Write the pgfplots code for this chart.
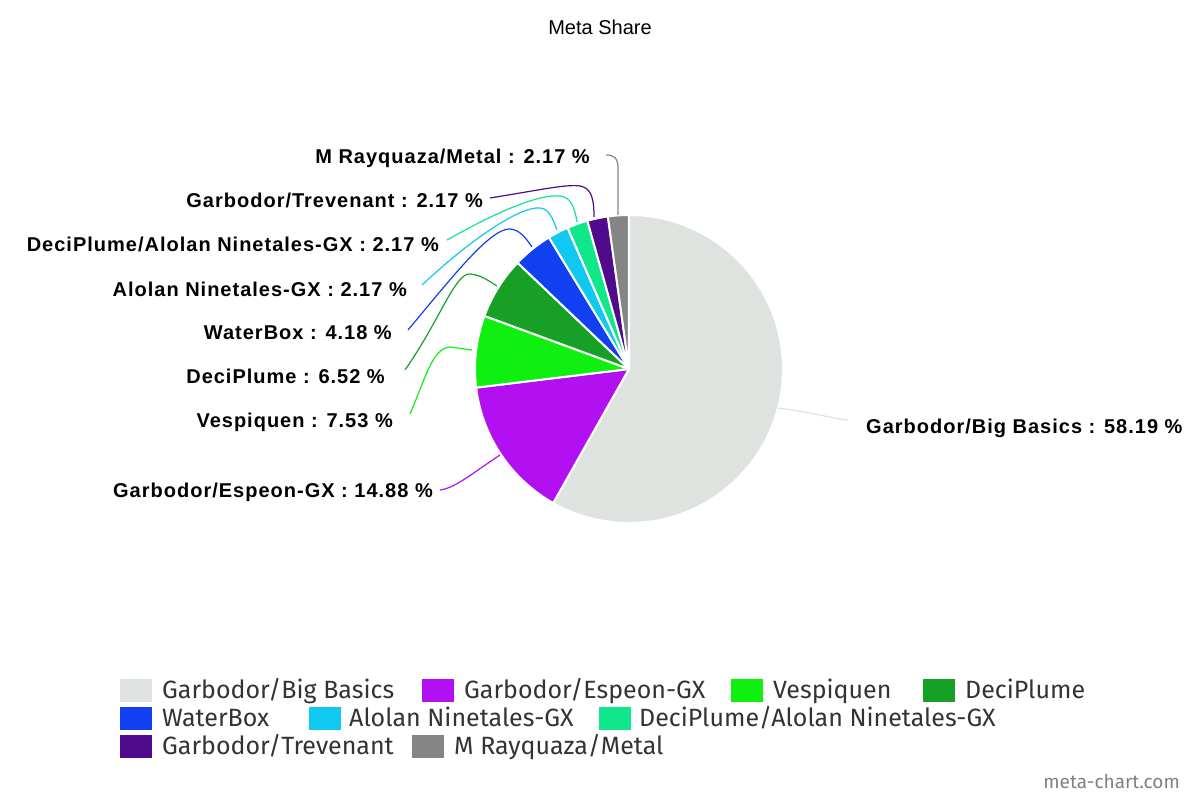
\documentclass[border=0pt]{standalone}
\usepackage{pgfplots}
\usepackage{pgfplotstable}
\pgfplotsset{compat=1.18}
\usepackage{fontspec}
\setmainfont{Liberation Sans}
\newfontfamily\labelfont[LetterSpace=5]{Liberation Sans}
\newfontfamily\legfont{Fira Sans}

\definecolor{cBB}{RGB}{223,227,223}
\definecolor{cES}{RGB}{178,16,240}
\definecolor{cVE}{RGB}{16,240,16}
\definecolor{cDP}{RGB}{22,160,38}
\definecolor{cWB}{RGB}{16,64,240}
\definecolor{cAN}{RGB}{16,200,240}
\definecolor{cDA}{RGB}{16,230,140}
\definecolor{cGT}{RGB}{80,10,140}
\definecolor{cMR}{RGB}{133,133,133}
\definecolor{legtext}{RGB}{51,51,51}

% share of each deck, clockwise from 12 o'clock
\pgfplotstableread[col sep=comma]{
name,share,color
Garbodor/Big Basics,58.19,cBB
Garbodor/Espeon-GX,14.88,cES
Vespiquen,7.53,cVE
DeciPlume,6.52,cDP
WaterBox,4.18,cWB
Alolan Ninetales-GX,2.17,cAN
DeciPlume/Alolan Ninetales-GX,2.17,cDA
Garbodor/Trevenant,2.17,cGT
M Rayquaza/Metal,2.17,cMR
}\sharetable

\begin{document}
\begin{tikzpicture}
\begin{axis}[
hide axis,
x=1pt, y=1pt,
xmin=0, xmax=1200,
ymin=0, ymax=800,
clip=false,
]
\path (axis cs:0,0) rectangle (axis cs:1200,800);

% wedges
\def\cx{629}\def\cy{431}\def\rr{154}
\def\cum{0}
\pgfplotsforeachungrouped \i in {0,...,8}{%
  \pgfplotstablegetelem{\i}{share}\of\sharetable \let\v=\pgfplotsretval
  \pgfplotstablegetelem{\i}{color}\of\sharetable \let\col=\pgfplotsretval
  \pgfmathsetmacro\sa{90-3.6*\cum}%
  \pgfmathsetmacro\ea{90-3.6*(\cum+\v)}%
  \pgfmathsetmacro\cum{\cum+\v}%
  \edef\temp{\noexpand\fill[fill=\col, draw=white, line width=2pt, line join=round]
    (axis cs:\cx,\cy) -- (axis cs:{\cx+\rr*cos(\sa)},{\cy+\rr*sin(\sa)})
    arc[start angle=\sa, end angle=\ea, radius=\rr pt] -- cycle;}%
  \temp
}

% leader lines
\draw[cMR, line width=1.2pt] (axis cs:618,585) -- (axis cs:618,632) .. controls (axis cs:618,642) and (axis cs:614,645) .. (axis cs:606,645);
\draw[cGT, line width=1.2pt] (axis cs:490,602) .. controls (axis cs:540,610) and (axis cs:566,616) .. (axis cs:580,614) .. controls (axis cs:592,612) and (axis cs:594,600) .. (axis cs:594,583);
\draw[cDA, line width=1.2pt] (axis cs:447,560) .. controls (axis cs:500,590) and (axis cs:540,606) .. (axis cs:560,604) .. controls (axis cs:572,603) and (axis cs:575,590) .. (axis cs:577,578);
\draw[cAN, line width=1.2pt] (axis cs:422,515) .. controls (axis cs:470,560) and (axis cs:520,594) .. (axis cs:540,592) .. controls (axis cs:550,591) and (axis cs:553,580) .. (axis cs:557,570);
\draw[cWB, line width=1.2pt] (axis cs:408,470) .. controls (axis cs:450,520) and (axis cs:490,572) .. (axis cs:510,571) .. controls (axis cs:520,570) and (axis cs:525,563) .. (axis cs:532,553);
\draw[cDP, line width=1.2pt] (axis cs:405,430) .. controls (axis cs:440,480) and (axis cs:455,527) .. (axis cs:470,526) .. controls (axis cs:482,525) and (axis cs:490,518) .. (axis cs:497,514);
\draw[cVE, line width=1.2pt] (axis cs:410,386) .. controls (axis cs:425,420) and (axis cs:432,452) .. (axis cs:450,453) -- (axis cs:472,450);
\draw[cES, line width=1.2pt] (axis cs:440,310) .. controls (axis cs:455,312) and (axis cs:470,325) .. (axis cs:500,345);
\draw[cBB, line width=1.2pt] (axis cs:778,392) .. controls (axis cs:810,388) and (axis cs:830,382) .. (axis cs:848,380);

% slice labels
\begin{scope}[every node/.style={inner sep=0pt, font=\labelfont\bfseries\fontsize{20}{22}\selectfont}]
\node[anchor=base east] at (axis cs:590,636) {M Rayquaza/Metal : 2.17 \%};
\node[anchor=base east] at (axis cs:483,592) {Garbodor/Trevenant : 2.17 \%};
\node[anchor=base east] at (axis cs:439,548) {DeciPlume/Alolan Ninetales-GX : 2.17 \%};
\node[anchor=base east] at (axis cs:407,503) {Alolan Ninetales-GX : 2.17 \%};
\node[anchor=base east] at (axis cs:392,460) {WaterBox : 4.18 \%};
\node[anchor=base east] at (axis cs:385,416) {DeciPlume : 6.52 \%};
\node[anchor=base east] at (axis cs:393,372) {Vespiquen : 7.53 \%};
\node[anchor=base east] at (axis cs:433,302) {Garbodor/Espeon-GX : 14.88 \%};
\node[anchor=base west] at (axis cs:866,366) {Garbodor/Big Basics : 58.19 \%};
\end{scope}

% title
\node[inner sep=0pt, font=\fontsize{20}{22}\selectfont] at (axis cs:600,773) {Meta Share};

% legend
\begin{scope}[every node/.style={inner sep=0pt, anchor=base west, text=legtext, font=\legfont\fontsize{25}{28}\selectfont}]
\fill[cBB] (axis cs:120,98) rectangle (axis cs:152,121); \node at (axis cs:162,101) {Garbodor/Big Basics};
\fill[cES] (axis cs:422,98) rectangle (axis cs:454,121); \node at (axis cs:464,101) {Garbodor/Espeon-GX};
\fill[cVE] (axis cs:731,98) rectangle (axis cs:763,121); \node at (axis cs:773,101) {Vespiquen};
\fill[cDP] (axis cs:923,98) rectangle (axis cs:955,121); \node at (axis cs:965,101) {DeciPlume};
\fill[cWB] (axis cs:120,70) rectangle (axis cs:152,93); \node at (axis cs:162,73) {WaterBox};
\fill[cAN] (axis cs:309,70) rectangle (axis cs:341,93); \node at (axis cs:349,73) {Alolan Ninetales-GX};
\fill[cDA] (axis cs:599,70) rectangle (axis cs:631,93); \node at (axis cs:639,73) {DeciPlume/Alolan Ninetales-GX};
\fill[cGT] (axis cs:120,42) rectangle (axis cs:152,65); \node at (axis cs:162,45) {Garbodor/Trevenant};
\fill[cMR] (axis cs:412,42) rectangle (axis cs:444,65); \node at (axis cs:454,45) {M Rayquaza/Metal};
\end{scope}

% watermark
\node[inner sep=0pt, anchor=base east, text={rgb,255:red,128;green,128;blue,128}, font=\legfont\fontsize{19}{20}\selectfont] at (axis cs:1180,11) {meta-chart.com};
\end{axis}
\end{tikzpicture}
\end{document}
